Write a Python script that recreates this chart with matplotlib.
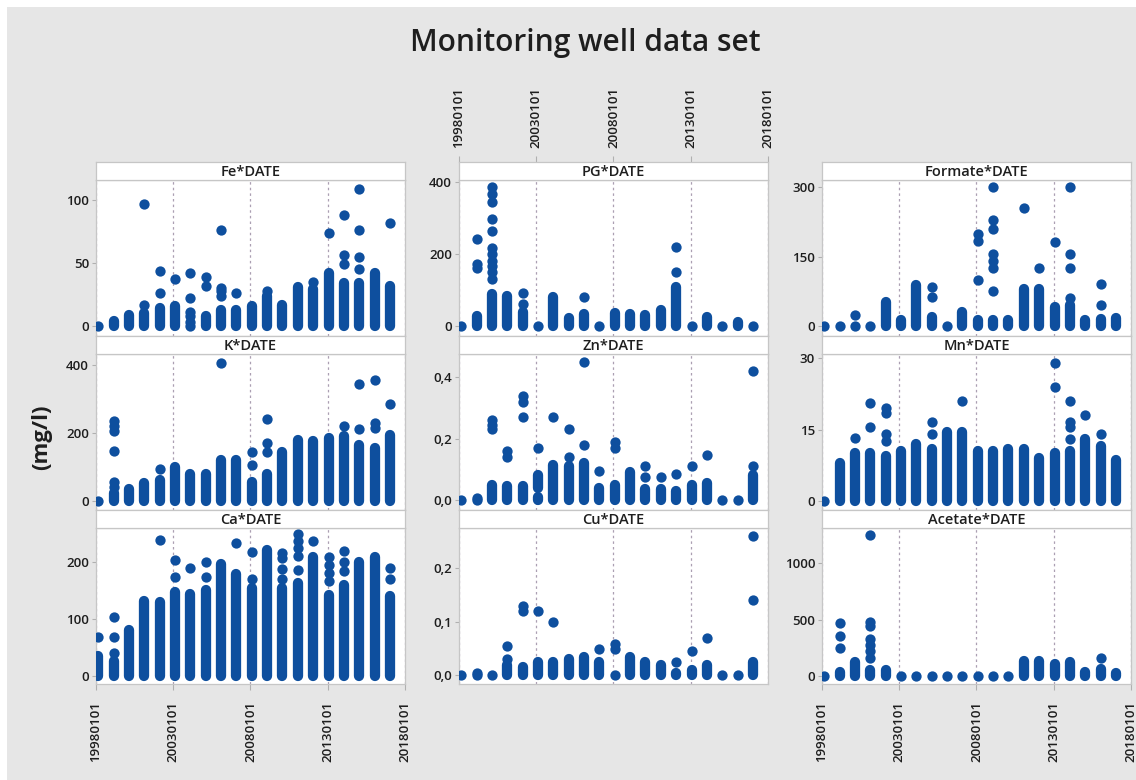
import matplotlib
matplotlib.use('Agg')
import matplotlib.pyplot as plt
import matplotlib.dates as mdates
from matplotlib.patches import Rectangle
from matplotlib.ticker import FuncFormatter
import pandas as pd

# sampling campaigns, one per year (the DATE axis)
sample_dates = ['1998-02-24', '1999-02-22', '2000-02-19', '2001-02-17', '2002-02-15',
                '2003-02-12', '2004-02-10', '2005-02-08', '2006-02-05', '2007-02-03',
                '2008-02-01', '2009-01-29', '2010-01-27', '2011-01-24', '2012-01-22',
                '2013-01-20', '2014-01-17', '2015-01-15', '2016-01-12', '2017-01-10']
tick_dates = ['1998-01-01', '2003-01-01', '2008-01-01', '2013-01-01', '2018-01-01']

# per campaign: single values, or (low, high) for a dense stack of samples
fe = [[0], [(0, 4)], [(0, 9)], [(0, 10), 17, 97], [(0, 14), 26, 44], [(0, 16), 37],
      [0, 3, 8, 11, 22, 42], [(0, 8), 32, 39], [(0, 13), 24, 28, 30, 76], [(0, 13), 26],
      [(0, 16)], [(0, 24), 28], [(0, 17)], [(0, 31)], [(0, 29), 35], [(0, 42), 74],
      [(0, 34), 49, 56, 88], [(0, 34), 45, 55, 76, 109], [(0, 42)], [(0, 32), 82]]
pg = [[0], [(0, 28), 160, 172, 241],
      [(0, 90), 131, 150, 168, 182, 200, 218, 264, 297, 343, 366, 385],
      [(0, 85)], [(0, 40), 62, 91], [0], [(0, 80)], [(0, 22)], [(0, 35), 80], [0],
      [(0, 38)], [(0, 35)], [(0, 30)], [(0, 45)], [(0, 110), 150, 220], [0],
      [(0, 25)], [0], [(0, 12)], [0]]
formate = [[0], [0], [0, 24], [0], [(0, 51)], [(0, 12)], [(0, 88)], [(0, 20), 62, 84], [0],
           [(0, 30)], [(0, 12), 100, 183, 200], [(0, 12), 75, 125, 140, 155, 210, 230, 300],
           [(0, 12)], [(0, 80), 255], [(0, 80), 125], [(0, 40), 182],
           [(0, 45), 60, 125, 155, 300], [(0, 12)], [(0, 15), 45, 90], [(0, 18)]]
k = [[0], [(0, 24), 40, 56, 148, 204, 221, 236], [(0, 35)], [(0, 52)], [(0, 60), 95],
     [(0, 100)], [(0, 80)], [(0, 80)], [(0, 120), 406], [(0, 120)], [(0, 55), 105, 145],
     [(0, 80), 145, 170, 240], [(0, 145)], [(0, 180)], [(0, 175)], [(0, 185)],
     [(0, 190), 220], [(0, 165), 210, 345], [(0, 155), 215, 230, 355], [(0, 195), 285]]
zn = [[0], [0, 0.005], [(0, 0.05), 0.23, 0.245, 0.26], [(0, 0.045), 0.14, 0.16],
      [(0, 0.045), 0.27, 0.32, 0.34], [(0, 0.01), (0.04, 0.08), 0.17], [(0, 0.115), 0.27],
      [(0, 0.11), 0.14, 0.23], [(0, 0.12), 0.18, 0.45], [(0, 0.04), 0.095],
      [(0, 0.05), 0.17, 0.19], [(0, 0.09)], [(0, 0.035), 0.075, 0.11], [(0, 0.035), 0.075],
      [(0, 0.03), 0.085], [(0, 0.05), 0.11], [(0, 0.055), 0.145], [0], [0],
      [(0, 0.08), 0.11, 0.42]]
mn = [[0], [(0, 8)], [(0, 10), 13.2], [(0, 10), 15.5, 20.5], [(0, 9.5), 12.5, 14, 18.5, 19.5],
      [(0, 10.5)], [(0, 12)], [(0, 11), 14, 16.5], [(0, 14.5)], [(0, 14.5), 21], [(0, 10.5)],
      [(0, 10.5)], [(0, 11)], [(0, 11)], [(0, 9)], [(0, 10), 24, 29],
      [(0, 10.5), 13, 15.5, 16.5, 21], [(0, 13), 18], [(0, 11.5), 14], [(0, 8.5)]]
ca = [[(0, 35), 68], [(0, 25), 40, 68, 104], [(0, 80)], [(0, 132)], [(0, 130), 240],
      [(0, 148), 175, 205], [(0, 145), 190], [(0, 152), 175, 200], [(0, 197)],
      [(0, 180), 235], [(0, 155), 170, 218], [(0, 222)], [(0, 155), 170, 188, 208, 217],
      [(0, 163), 187, 211, 226, 238, 250], [(0, 210), 238], [(0, 143), 167, 181, 196, 210],
      [(0, 160), 185, 200, 220], [(0, 200)], [(0, 210)], [(0, 140), 170, 190]]
cu = [[0], [0, 0.005], [0], [(0, 0.02), 0.03, 0.055], [(0, 0.015), 0.12, 0.13],
      [(0, 0.025), 0.12], [(0, 0.025), 0.1], [(0, 0.03)], [(0, 0.035)], [(0, 0.025), 0.05],
      [0, 0.05, 0.058], [(0, 0.035)], [(0, 0.025)], [(0, 0.02)], [(0, 0.005), 0.025],
      [(0, 0.01), 0.045], [(0, 0.02), 0.07], [0], [0], [(0, 0.025), 0.14, 0.26]]
acetate = [[0], [(0, 30), 250, 350, 470], [(0, 120)],
           [(0, 50), 160, 220, 270, 330, 440, 480, 1250], [(0, 50)], [0], [0], [0], [0],
           [0], [0], [0], [0], [(0, 130)], [(0, 130)], [(0, 100)], [(0, 120)], [(0, 30)],
           [(0, 60), 160], [(0, 20)]]

panel_data = [fe, pg, formate, k, zn, mn, ca, cu, acetate]
panel_titles = ['Fe*DATE', 'PG*DATE', 'Formate*DATE', 'K*DATE', 'Zn*DATE', 'Mn*DATE',
                'Ca*DATE', 'Cu*DATE', 'Acetate*DATE']
panel_yticks = [[0, 50, 100], [0, 200, 400], [0, 150, 300], [0, 200, 400], [0, 0.2, 0.4],
                [0, 15, 30], [0, 100, 200], [0, 0.1, 0.2], [0, 500, 1000]]
panel_ylims = [(-8, 116), (-27, 405), (-22, 316), (-27, 432), (-0.033, 0.476),
               (-1.94, 30.9), (-15, 261), (-0.016, 0.275), (-75, 1316)]

BLUE = '#0e4f9e'
BG = '#e6e6e6'
EDGE = '#c6c6c6'
TXT = '#1e1e1e'
plt.rcParams['font.family'] = ['Open Sans', 'DejaVu Sans']

W, H = 1136, 780
fig = plt.figure(figsize=(W / 100, H / 100), dpi=100)
fig.patch.set_facecolor('white')
fig.patches.append(Rectangle((7 / W, 0), 1, 1 - 7 / H, transform=fig.transFigure,
                             facecolor=BG, edgecolor='none', zorder=-10))


def box(x0, y0, x1, y1):
    # pixel box (from top-left) -> figure fraction
    return [x0 / W, 1 - y1 / H, (x1 - x0) / W, (y1 - y0) / H]


col_left = [96, 459, 822]
pw = 309
top, sh, ph = 162, 18, 156

xs = mdates.date2num(pd.to_datetime(sample_dates))
xt = mdates.date2num(pd.to_datetime(tick_dates))
date_fmt = FuncFormatter(lambda v, p: mdates.num2date(v).strftime('%Y%m%d'))
comma_fmt = FuncFormatter(lambda v, p: f'{v:.1f}'.replace('.', ','))

for n, data in enumerate(panel_data):
    r, c = divmod(n, 3)
    x0 = col_left[c]
    y_strip = top + r * (sh + ph)
    ax = fig.add_axes(box(x0, y_strip + sh, x0 + pw, y_strip + sh + ph))
    st = fig.add_axes(box(x0, y_strip, x0 + pw, y_strip + sh))

    # split each campaign into dense runs and single points
    rx, rlo, rhi, px, py = [], [], [], [], []
    for x, col in zip(xs, data):
        for item in col:
            if isinstance(item, tuple):
                rx.append(x); rlo.append(item[0]); rhi.append(item[1])
            else:
                px.append(x); py.append(item)
    if rx:
        ax.vlines(rx, rlo, rhi, colors=BLUE, lw=7.4, capstyle='round', zorder=3)
    ax.scatter(px, py, s=55, c=BLUE, linewidths=0, zorder=3)

    ax.set_xlim(xt[0], xt[-1])
    ax.set_ylim(*panel_ylims[n])
    ax.set_xticks(xt)
    ax.set_yticks(panel_yticks[n])
    if n in (4, 7):
        ax.yaxis.set_major_formatter(comma_fmt)
    ax.grid(axis='x', color='#ab9fb2', lw=0.9, ls=(0, (2, 2.5)))
    ax.set_facecolor('white')
    for s in ax.spines.values():
        s.set_color(EDGE)
        s.set_linewidth(0.9)
    ax.tick_params(axis='y', length=3, width=0.8, color='#b0b0b0', pad=2,
                   labelsize=9.5, labelcolor=TXT)
    if r == 2 and c != 1:
        ax.xaxis.set_major_formatter(date_fmt)
        ax.tick_params(axis='x', length=4, width=0.8, color='#b0b0b0', pad=8,
                       labelsize=9.5, labelcolor=TXT, labelrotation=90)
    else:
        ax.tick_params(axis='x', length=0, labelbottom=False)
    plt.setp(ax.get_yticklabels() + ax.get_xticklabels(), fontweight='semibold')

    # panel title strip
    st.set_facecolor('white')
    st.set_xlim(xt[0], xt[-1])
    st.set_ylim(0, 1)
    for s in st.spines.values():
        s.set_color(EDGE)
        s.set_linewidth(0.9)
    st.set_yticks([])
    if r == 0 and c == 1:
        st.set_xticks(xt)
        st.xaxis.set_major_formatter(date_fmt)
        st.tick_params(axis='x', top=True, bottom=False, labeltop=True, labelbottom=False,
                       length=4, width=0.8, color='#b0b0b0', pad=6, labelsize=9.5,
                       labelcolor=TXT, labelrotation=90)
        plt.setp(st.get_xticklabels(), fontweight='semibold')
    else:
        st.set_xticks([])
    st.text(0.5, 0.45, panel_titles[n], transform=st.transAxes, ha='center', va='center',
            fontsize=10.5, fontweight='semibold', color=TXT)

fig.text(585 / W, 1 - 43 / H, 'Monitoring well data set', ha='center', va='center',
         fontsize=21.5, fontweight='semibold', color=TXT)
fig.text(42 / W, 1 - 437 / H, '(mg/l)', ha='center', va='center', rotation=90,
         fontsize=16, fontweight='bold', color=TXT)

fig.savefig('out.png', dpi=100, facecolor=fig.get_facecolor())
